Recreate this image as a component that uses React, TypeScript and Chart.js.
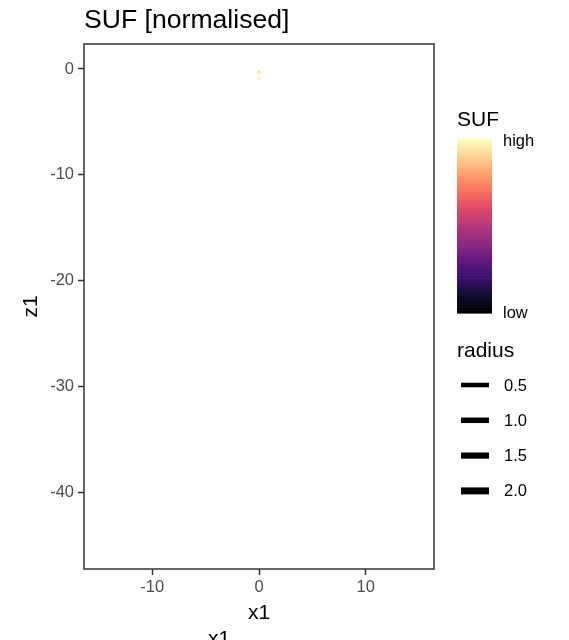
import React, { useEffect, useRef } from "react";
import { Chart, registerables } from "chart.js";

Chart.register(...registerables);

// ---- data ----
const rootX: number[] = [0, 0, 0, 0, 0, 0, 0, 0];
const rootZ: number[] = [-0.05, -0.2, -0.35, -0.5, -0.65, -0.8, -0.95, -1.1];
const sufValues: number[] = [0.97, 0.8, 0.95, 1.0, 0.97, 0.93, 0.99, 1.0];
const xTicks: number[] = [-10, 0, 10];
const yTicks: number[] = [0, -10, -20, -30, -40];
const radiusLabels: string[] = ["0.5", "1.0", "1.5", "2.0"];
const radiusWidths: number[] = [4.5, 5.5, 6.2, 7];
const colorbarLabels: string[] = ["high", "low"];

const magma: string[] = [
  "#000004", "#140e36", "#3b0f70", "#641a80", "#8c2981", "#b73779",
  "#de4968", "#f7705c", "#fe9f6d", "#fecf92", "#fcfdbf",
];

function hexToRgb(h: string): number[] {
  return [parseInt(h.slice(1, 3), 16), parseInt(h.slice(3, 5), 16), parseInt(h.slice(5, 7), 16)];
}
function magmaColor(t: number, alpha = 1): string {
  const v = Math.max(0, Math.min(1, t)) * (magma.length - 1);
  const i = Math.min(magma.length - 2, Math.floor(v));
  const f = v - i;
  const a = hexToRgb(magma[i]);
  const b = hexToRgb(magma[i + 1]);
  const c = a.map((x, k) => Math.round(x + (b[k] - x) * f));
  return `rgba(${c[0]},${c[1]},${c[2]},${alpha})`;
}

const FONT = "'Liberation Sans', Arial, Helvetica, sans-serif";

const decorPlugin = {
  id: "decor",
  afterDraw(chart: any) {
    const ctx = chart.ctx as CanvasRenderingContext2D;
    const a = chart.chartArea;
    ctx.save();
    // panel border
    ctx.strokeStyle = "#333333";
    ctx.lineWidth = 1.5;
    ctx.strokeRect(a.left, a.top, a.right - a.left, a.bottom - a.top);

    // title
    ctx.fillStyle = "#000000";
    ctx.textAlign = "left";
    ctx.textBaseline = "alphabetic";
    ctx.font = `26.6px ${FONT}`;
    ctx.fillText("SUF [normalised]", a.left, 28);

    // axis titles
    ctx.font = `21px ${FONT}`;
    ctx.textAlign = "center";
    ctx.fillText("x1", (a.left + a.right) / 2, 619);
    ctx.fillText("x1", 219, 645);
    ctx.save();
    ctx.translate(37, (a.top + a.bottom) / 2);
    ctx.rotate(-Math.PI / 2);
    ctx.fillText("z1", 0, 0);
    ctx.restore();

    // colour legend
    ctx.textAlign = "left";
    ctx.font = `21px ${FONT}`;
    ctx.fillText("SUF", 457, 126);
    const cbL = 457, cbT = 139, cbW = 35, cbH = 174;
    const nbin = 60;
    for (let i = 0; i < nbin; i++) {
      const t = 1 - i / (nbin - 1);
      ctx.fillStyle = magmaColor(t);
      ctx.fillRect(cbL, cbT + (i * cbH) / nbin, cbW, cbH / nbin + 0.6);
    }
    ctx.fillStyle = "#000000";
    ctx.font = `16.5px ${FONT}`;
    ctx.textBaseline = "middle";
    ctx.fillText(colorbarLabels[0], 503, cbT + 2);
    ctx.fillText(colorbarLabels[1], 503, cbT + cbH);

    // radius legend
    ctx.textBaseline = "alphabetic";
    ctx.font = `21px ${FONT}`;
    ctx.fillText("radius", 457, 357);
    ctx.font = `16.5px ${FONT}`;
    ctx.textBaseline = "middle";
    radiusLabels.forEach((lab, i) => {
      const y = 385 + i * 35.3;
      ctx.strokeStyle = "#000000";
      ctx.lineWidth = radiusWidths[i];
      ctx.beginPath();
      ctx.moveTo(461, y);
      ctx.lineTo(489, y);
      ctx.stroke();
      ctx.fillStyle = "#000000";
      ctx.fillText(lab, 504, y + 1);
    });
    ctx.restore();
  },
};

export default function App() {
  const ref = useRef<HTMLCanvasElement>(null);
  useEffect(() => {
    if (!ref.current) return;
    const pts = rootX.map((x, i) => ({ x, y: rootZ[i] }));
    const chart = new Chart(ref.current, {
      type: "scatter",
      data: {
        datasets: [
          {
            data: pts,
            showLine: true,
            pointRadius: 0,
            borderWidth: 3,
            borderColor: magmaColor(1, 0.55),
            segment: {
              borderColor: (c: any) => magmaColor(sufValues[c.p0DataIndex], 0.55),
            },
          } as any,
        ],
      },
      options: {
        responsive: false,
        animation: false,
        devicePixelRatio: 1,
        layout: { padding: { top: 44, right: 135, left: 0, bottom: 0 } },
        plugins: { legend: { display: false }, tooltip: { enabled: false } },
        scales: {
          x: {
            type: "linear",
            min: -16.4,
            max: 16.4,
            afterBuildTicks: (s: any) => {
              s.ticks = xTicks.map((v) => ({ value: v }));
            },
            afterFit: (s: any) => {
              s.height = 71;
            },
            grid: {
              drawOnChartArea: false,
              drawTicks: true,
              tickLength: 6,
              tickColor: "#333333",
              tickWidth: 1.5,
            },
            border: { display: false },
            ticks: {
              font: { family: FONT, size: 16.5 },
              color: "#4d4d4d",
              padding: 3,
              maxRotation: 0,
            },
          },
          y: {
            type: "linear",
            min: -47.2,
            max: 2.36,
            afterBuildTicks: (s: any) => {
              s.ticks = yTicks.map((v) => ({ value: v }));
            },
            afterFit: (s: any) => {
              s.width = 84;
            },
            grid: {
              drawOnChartArea: false,
              drawTicks: true,
              tickLength: 6,
              tickColor: "#333333",
              tickWidth: 1.5,
            },
            border: { display: false },
            ticks: {
              font: { family: FONT, size: 16.5 },
              color: "#4d4d4d",
              padding: 4,
            },
          },
        },
      },
      plugins: [decorPlugin],
    });
    return () => chart.destroy();
  }, []);
  return (
    <div style={{ position: "absolute", left: 0, top: 0, width: 569, height: 640, background: "#fff" }}>
      <canvas ref={ref} width={569} height={640} style={{ width: 569, height: 640 }} />
    </div>
  );
}
